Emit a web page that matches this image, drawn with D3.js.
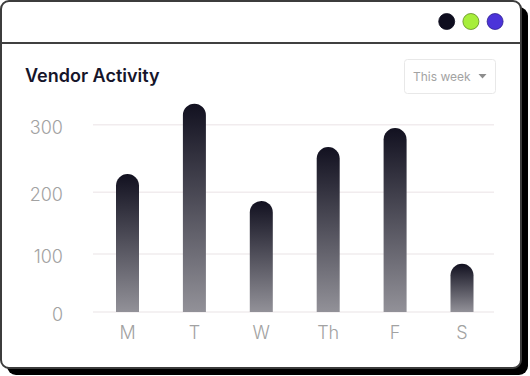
<!DOCTYPE html>
<html>
<head>
<meta charset="utf-8">
<script src="https://cdn.jsdelivr.net/npm/d3@7"></script>
<style>
  html, body { margin: 0; padding: 0; background: #fff; }
  svg { display: block; font-family: Inter, "Noto Sans", sans-serif; }
</style>
</head>
<body>
<svg width="530" height="376"></svg>
<script>
// chart data
var days = ['M', 'T', 'W', 'Th', 'F', 'S'];
var activity = [227, 331, 186, 267, 295, 83];
var yTicks = [0, 100, 200, 300];
var dotColors = ['#0e0d1e', '#a7ee3b', '#4b33d9'];
var dotStrokes = ['#0e0d1e', '#5f8a22', '#2e1f8f'];

var svg = d3.select('svg');

// window frame + hard shadow
svg.append('rect')
  .attr('x', 7).attr('y', 7)
  .attr('width', 521).attr('height', 368)
  .attr('rx', 9)
  .attr('fill', '#000');

svg.append('rect')
  .attr('x', 1).attr('y', 1)
  .attr('width', 520).attr('height', 367)
  .attr('rx', 8)
  .attr('fill', '#fff')
  .attr('stroke', '#3c3c3c')
  .attr('stroke-width', 2);

svg.append('line')
  .attr('x1', 1).attr('x2', 521)
  .attr('y1', 43).attr('y2', 43)
  .attr('stroke', '#404040')
  .attr('stroke-width', 2);

// little window dots
svg.selectAll('circle.dot')
  .data(dotColors)
  .enter().append('circle')
  .attr('class', 'dot')
  .attr('cx', (d, i) => 446.7 + i * 24.2)
  .attr('cy', 21.5)
  .attr('r', 8)
  .attr('fill', d => d)
  .attr('stroke', (d, i) => dotStrokes[i])
  .attr('stroke-width', 0.8);

// title
svg.append('text')
  .attr('x', 25).attr('y', 81.5)
  .attr('font-size', 18)
  .attr('font-weight', 600)
  .attr('fill', '#16152a')
  .text('Vendor Activity');

// dropdown
var dd = svg.append('g').attr('transform', 'translate(404.5,59.5)');
dd.append('rect')
  .attr('width', 91).attr('height', 34)
  .attr('rx', 3)
  .attr('fill', '#fff')
  .attr('stroke', '#e8e8e8');
dd.append('text')
  .attr('x', 8.5).attr('y', 21)
  .attr('font-size', 12)
  .attr('fill', '#a3a3a3')
  .text('This week');
dd.append('path')
  .attr('d', 'M74,14.5 L82,14.5 L78,19 Z')
  .attr('fill', '#8d8d8d');

// scales
var y = d3.scaleLinear()
  .domain(yTicks)
  .range([312, 254, 192.3, 124.7]);

var x = d3.scalePoint()
  .domain(days)
  .range([127.5, 462]);

var barW = 23;

// gradient per bar
var grad = svg.append('defs').append('linearGradient')
  .attr('id', 'barGrad')
  .attr('x1', 0).attr('y1', 0)
  .attr('x2', 0).attr('y2', 1);
grad.append('stop').attr('offset', '0%').attr('stop-color', '#121120');
grad.append('stop').attr('offset', '100%').attr('stop-color', '#929198');

// grid lines
svg.selectAll('line.grid')
  .data(yTicks)
  .enter().append('line')
  .attr('class', 'grid')
  .attr('x1', 93).attr('x2', 494)
  .attr('y1', d => y(d)).attr('y2', d => y(d))
  .attr('stroke', '#f1ecee')
  .attr('stroke-width', 1.5);

// y labels
svg.selectAll('text.ylab')
  .data(yTicks)
  .enter().append('text')
  .attr('class', 'ylab')
  .attr('x', 63)
  .attr('y', d => y(d) + 9)
  .attr('text-anchor', 'end')
  .attr('font-size', 18)
  .attr('font-weight', 300)
  .attr('fill', '#a2a2a2')
  .text(d => d);

// bars with rounded tops
var r = barW / 2;
svg.selectAll('path.bar')
  .data(activity)
  .enter().append('path')
  .attr('class', 'bar')
  .attr('fill', 'url(#barGrad)')
  .attr('d', (d, i) => {
    var cx = x(days[i]);
    var top = y(d);
    var bottom = y(0);
    return 'M' + (cx - r) + ',' + bottom +
      'L' + (cx - r) + ',' + (top + r) +
      'A' + r + ',' + r + ' 0 0 1 ' + (cx + r) + ',' + (top + r) +
      'L' + (cx + r) + ',' + bottom + 'Z';
  });

// x labels
svg.selectAll('text.xlab')
  .data(days)
  .enter().append('text')
  .attr('class', 'xlab')
  .attr('x', d => x(d))
  .attr('y', 339)
  .attr('text-anchor', 'middle')
  .attr('font-size', 18)
  .attr('font-weight', 300)
  .attr('fill', '#a2a2a2')
  .text(d => d);
</script>
</body>
</html>
